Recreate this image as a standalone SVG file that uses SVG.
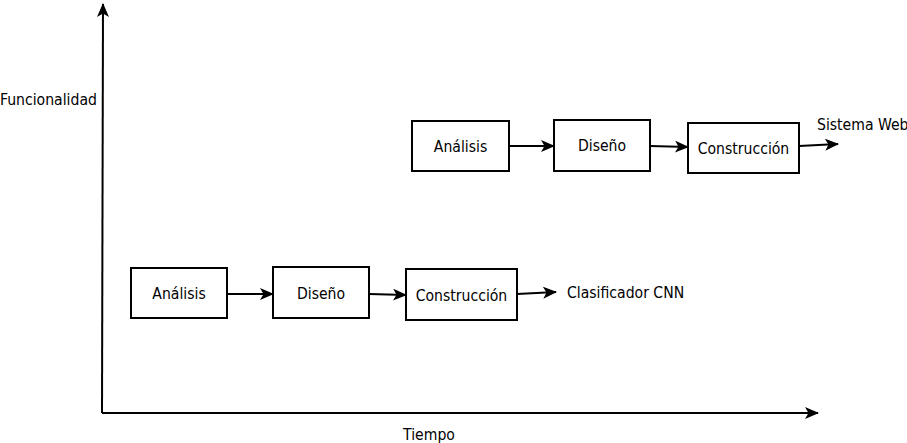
<svg xmlns="http://www.w3.org/2000/svg" width="907" height="443" viewBox="0 0 907 443">
<style>
.box{fill:#fff;stroke:#000;stroke-width:2}
.ln{fill:none;stroke:#000;stroke-width:2}
text{font-family:"DejaVu Sans Condensed","DejaVu Sans",sans-serif;font-size:15.6px;fill:#000}
.c{text-anchor:middle}
</style>
<defs>
<marker id="ah" markerUnits="userSpaceOnUse" markerWidth="16" markerHeight="14" refX="13" refY="6" orient="auto" viewBox="0 0 16 14">
<path d="M0,0 L14,6 L0,12 L3.5,6 z" fill="#000"/>
</marker>
</defs>
<g id="connectors">
<path class="ln" d="M102,413 L103,4" marker-end="url(#ah)"/>
<path class="ln" d="M102,413 L818,413" marker-end="url(#ah)"/>
<path class="ln" d="M509,146 L554,146" marker-end="url(#ah)"/>
<path class="ln" d="M650,146 L688,147" marker-end="url(#ah)"/>
<path class="ln" d="M799,146 L838,144" marker-end="url(#ah)"/>
<path class="ln" d="M227,294 L273,294" marker-end="url(#ah)"/>
<path class="ln" d="M369,294 L406,295" marker-end="url(#ah)"/>
<path class="ln" d="M517,294 L556,292" marker-end="url(#ah)"/>
</g>
<g id="n-analisis-1"><rect class="box" x="131" y="268" width="96" height="50"/><text class="c" x="179" y="299">Análisis</text></g>
<g id="n-diseno-1"><rect class="box" x="273" y="267" width="96" height="51"/><text class="c" x="321" y="299">Diseño</text></g>
<g id="n-construccion-1"><rect class="box" x="406" y="269" width="111" height="51"/><text class="c" x="461.5" y="301">Construcción</text></g>
<g id="n-analisis-2"><rect class="box" x="412" y="121" width="97" height="50"/><text class="c" x="460.5" y="152">Análisis</text></g>
<g id="n-diseno-2"><rect class="box" x="554" y="120" width="96" height="51"/><text class="c" x="602" y="151">Diseño</text></g>
<g id="n-construccion-2"><rect class="box" x="688" y="123" width="111" height="50"/><text class="c" x="743.5" y="154">Construcción</text></g>
<g id="labels">
<text x="817" y="130">Sistema Web</text>
<text x="567" y="298">Clasificador CNN</text>
<text x="0" y="105">Funcionalidad</text>
<text class="c" x="429" y="440">Tiempo</text>
</g>
</svg>
